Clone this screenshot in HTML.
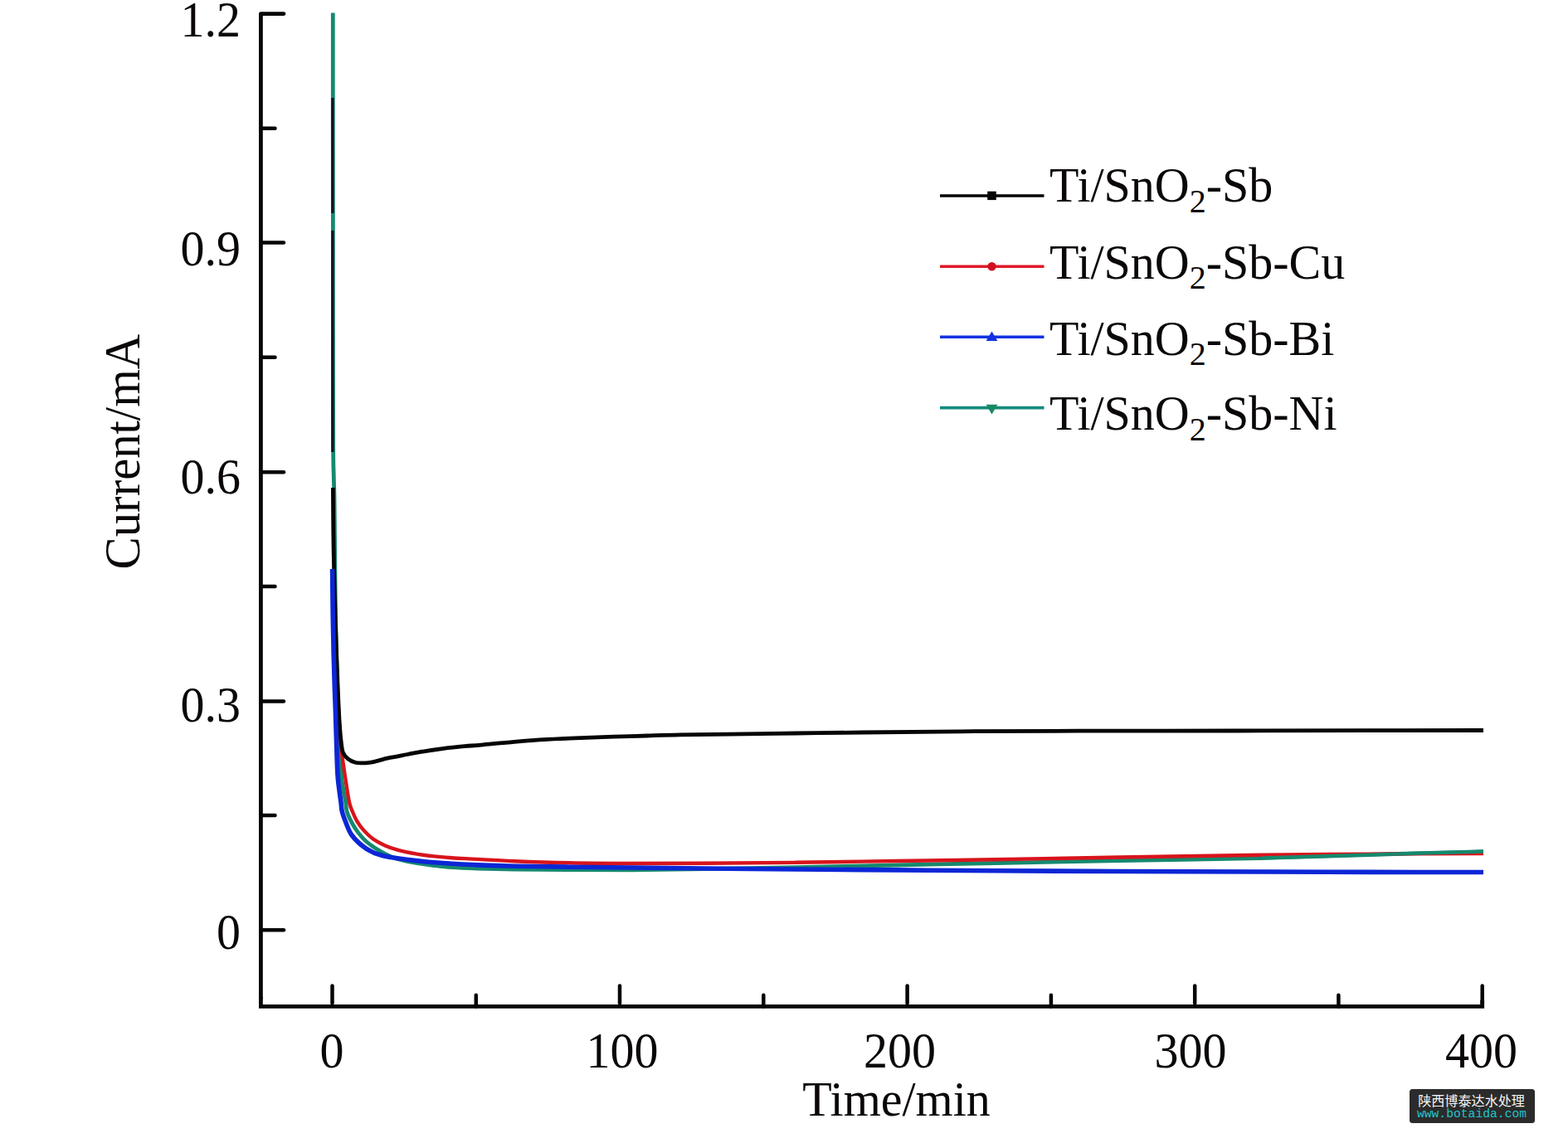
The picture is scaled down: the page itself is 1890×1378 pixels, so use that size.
<!DOCTYPE html>
<html><head><meta charset="utf-8"><title>chart</title>
<style>
html,body{margin:0;padding:0;background:#fff;}
body{width:1890px;height:1378px;overflow:hidden;font-family:"Liberation Serif",serif;}
svg{display:block;}
</style></head><body>
<svg width="1890" height="1378" viewBox="0 0 1890 1378">
<rect x="0" y="0" width="1890" height="1378" fill="#ffffff"/>
<path d="M401.3,15.5 C401.3,37.9 401.3,102.6 401.3,150.0 C401.3,197.4 401.4,250.0 401.4,300.0 C401.4,350.0 401.4,409.2 401.5,450.0 C401.6,490.8 401.6,524.2 401.7,545.0 C401.8,565.8 402.1,565.8 402.3,575.0 C402.5,584.2 402.8,589.2 403.0,600.0 C403.2,610.8 403.3,625.7 403.4,640.0 C403.5,654.3 403.6,669.3 403.8,686.0 C404.0,702.7 404.2,722.7 404.5,740.0 C404.8,757.3 405.1,775.0 405.5,790.0 C405.9,805.0 406.4,817.5 406.8,830.0 C407.2,842.5 407.5,853.3 408.0,865.0 C408.5,876.7 409.2,888.0 409.8,900.0 C410.4,912.0 410.6,925.9 411.7,937.0 C412.8,948.1 415.4,959.8 416.5,966.7 C417.6,973.7 416.9,974.2 418.3,978.7 C419.7,983.2 422.6,989.2 425.0,993.5 C427.4,997.8 429.6,1001.0 432.4,1004.6 C435.2,1008.2 437.9,1011.5 442.0,1015.0 C446.1,1018.5 451.9,1022.4 456.9,1025.4 C461.8,1028.4 466.8,1031.0 471.7,1033.0 C476.6,1035.0 481.1,1036.1 486.0,1037.3 C490.9,1038.5 495.1,1039.3 501.3,1040.3 C507.6,1041.3 516.2,1042.6 523.5,1043.5 C530.8,1044.4 536.2,1045.1 544.9,1045.7 C553.6,1046.3 563.0,1046.6 575.5,1047.0 C588.0,1047.4 601.8,1047.7 620.0,1048.0 C638.2,1048.3 661.7,1048.6 685.0,1048.7 C708.3,1048.8 732.5,1049.0 760.0,1048.8 C787.5,1048.6 816.7,1048.1 850.0,1047.6 C883.3,1047.1 921.7,1046.4 960.0,1045.6 C998.3,1044.8 1040.0,1043.8 1080.0,1043.0 C1120.0,1042.2 1155.0,1041.4 1200.0,1040.5 C1245.0,1039.6 1296.7,1038.5 1350.0,1037.5 C1403.3,1036.5 1470.0,1035.7 1520.0,1034.5 C1570.0,1033.3 1605.3,1031.8 1650.0,1030.5 C1694.7,1029.2 1765.0,1027.2 1788.0,1026.6" fill="none" stroke="#15896e" stroke-width="4.8" stroke-linejoin="round" stroke-linecap="butt"/>
<path d="M400.9,118 V257 M400.9,278 V545" stroke="#1a1026" stroke-width="3.4" fill="none"/>
<path d="M406.8,835.0 C407.1,840.0 407.8,854.2 408.5,865.0 C409.2,875.8 410.1,890.5 411.0,900.0 C411.9,909.5 413.0,915.8 413.9,922.0 C414.8,928.2 414.9,929.5 416.1,937.0 C417.3,944.5 419.4,959.8 420.9,966.7 C422.4,973.7 423.4,974.9 425.0,978.7 C426.6,982.6 428.0,986.1 430.2,989.8 C432.4,993.5 435.1,997.3 438.3,1000.9 C441.5,1004.5 445.1,1008.2 449.4,1011.3 C453.7,1014.4 459.4,1017.2 464.3,1019.4 C469.2,1021.6 472.9,1022.9 479.1,1024.6 C485.3,1026.3 493.9,1028.1 501.3,1029.4 C508.7,1030.7 516.2,1031.6 523.5,1032.4 C530.8,1033.2 536.2,1033.7 544.9,1034.3 C553.6,1034.9 563.0,1035.2 575.5,1035.9 C588.0,1036.6 601.8,1037.5 620.0,1038.2 C638.2,1038.9 661.7,1039.7 685.0,1040.2 C708.3,1040.7 732.5,1040.9 760.0,1041.0 C787.5,1041.1 816.7,1041.0 850.0,1040.8 C883.3,1040.6 921.7,1040.3 960.0,1039.8 C998.3,1039.3 1040.0,1038.6 1080.0,1038.0 C1120.0,1037.4 1155.0,1037.0 1200.0,1036.2 C1245.0,1035.5 1296.7,1034.4 1350.0,1033.5 C1403.3,1032.6 1470.0,1031.4 1520.0,1030.7 C1570.0,1030.0 1605.3,1029.9 1650.0,1029.6 C1694.7,1029.3 1765.0,1029.1 1788.0,1029.0" fill="none" stroke="#d8141c" stroke-width="4.4" stroke-linejoin="round" stroke-linecap="butt"/>
<path d="M401.4,588.0 C401.5,596.7 401.6,623.7 401.8,640.0 C402.0,656.3 402.2,669.3 402.6,686.0 C403.0,702.7 403.5,722.7 404.0,740.0 C404.5,757.3 405.2,775.0 405.7,790.0 C406.2,805.0 406.8,819.2 407.2,830.0 C407.6,840.8 407.9,846.7 408.3,855.0 C408.7,863.3 409.3,873.0 409.8,880.0 C410.3,887.0 410.9,892.4 411.5,897.0 C412.1,901.6 412.2,904.4 413.5,907.4 C414.8,910.4 416.9,912.8 419.4,914.8 C421.9,916.8 425.3,918.4 428.3,919.2 C431.3,920.0 434.4,919.8 437.5,919.8 C440.6,919.8 441.6,920.2 446.9,919.2 C452.1,918.2 461.7,915.3 469.0,913.7 C476.3,912.1 484.7,910.7 490.9,909.5 C497.1,908.3 498.7,907.9 506.0,906.7 C513.3,905.5 525.9,903.6 534.9,902.4 C543.9,901.2 552.5,900.4 560.0,899.7 C567.5,899.0 570.0,899.0 580.0,898.1 C590.0,897.2 606.7,895.4 620.0,894.3 C633.3,893.2 646.7,892.2 660.0,891.4 C673.3,890.6 686.7,890.1 700.0,889.6 C713.3,889.1 726.7,888.6 740.0,888.2 C753.3,887.8 766.7,887.4 780.0,887.0 C793.3,886.6 803.3,886.2 820.0,885.9 C836.7,885.6 856.7,885.4 880.0,885.1 C903.3,884.8 933.3,884.4 960.0,884.0 C986.7,883.6 1006.7,883.4 1040.0,883.0 C1073.3,882.6 1116.7,882.1 1160.0,881.8 C1203.3,881.5 1245.0,881.3 1300.0,881.2 C1355.0,881.1 1431.7,881.1 1490.0,881.0 C1548.3,880.9 1600.3,880.8 1650.0,880.7 C1699.7,880.6 1765.0,880.5 1788.0,880.5" fill="none" stroke="#060606" stroke-width="4.8" stroke-linejoin="round" stroke-linecap="butt"/>
<path d="M400.6,686.0 C400.7,695.0 400.9,722.7 401.2,740.0 C401.5,757.3 401.8,775.0 402.2,790.0 C402.6,805.0 403.0,819.2 403.4,830.0 C403.8,840.8 403.9,843.3 404.3,855.0 C404.7,866.7 405.2,886.3 405.7,900.0 C406.2,913.7 406.3,925.9 407.2,937.0 C408.1,948.1 410.0,959.8 410.9,966.7 C411.8,973.7 411.3,974.2 412.4,978.7 C413.5,983.2 415.8,988.9 417.6,993.5 C419.5,998.1 420.7,1002.0 423.5,1006.1 C426.3,1010.2 430.3,1014.4 434.6,1018.0 C438.9,1021.6 444.4,1025.2 449.4,1027.6 C454.3,1030.0 459.4,1031.1 464.3,1032.3 C469.2,1033.5 472.9,1033.9 479.1,1034.8 C485.3,1035.7 493.9,1036.8 501.3,1037.6 C508.7,1038.4 516.2,1039.2 523.5,1039.8 C530.8,1040.4 536.2,1040.8 544.9,1041.3 C553.6,1041.8 563.0,1042.4 575.5,1042.9 C588.0,1043.4 601.8,1043.9 620.0,1044.3 C638.2,1044.7 661.7,1044.9 685.0,1045.2 C708.3,1045.5 732.5,1045.7 760.0,1046.0 C787.5,1046.3 816.7,1046.7 850.0,1047.0 C883.3,1047.3 921.7,1047.7 960.0,1048.0 C998.3,1048.3 1040.0,1048.6 1080.0,1048.9 C1120.0,1049.2 1155.0,1049.5 1200.0,1049.8 C1245.0,1050.1 1296.7,1050.3 1350.0,1050.5 C1403.3,1050.7 1470.0,1050.8 1520.0,1051.0 C1570.0,1051.2 1605.3,1051.3 1650.0,1051.4 C1694.7,1051.5 1765.0,1051.5 1788.0,1051.5" fill="none" stroke="#0c26d6" stroke-width="5.6" stroke-linejoin="round" stroke-linecap="butt"/>
<path d="M1520.0,1034.5 C1541.7,1033.8 1605.3,1031.8 1650.0,1030.5 C1694.7,1029.2 1765.0,1027.2 1788.0,1026.6" fill="none" stroke="#15896e" stroke-width="4.2" stroke-linejoin="round" stroke-linecap="butt"/>
<g stroke="#060606" stroke-width="4.8" fill="none" stroke-linecap="round" stroke-linejoin="round"><path d="M342,16.6 H314.4 V1203.4" /></g><g stroke="#060606" stroke-width="4.8" fill="none" stroke-linecap="butt" stroke-linejoin="miter"><path d="M314.4,1201.4 V1213.4 H1786.7 V1205.4" /></g><g stroke="#060606" stroke-width="4.5" fill="none" stroke-linecap="round"><path d="M314.4,292.6 H342"/><path d="M314.4,569.3 H342"/><path d="M314.4,845.4 H342"/><path d="M314.4,1121.2 H342"/><path d="M314.4,154.7 H331.5"/><path d="M314.4,430.8 H331.5"/><path d="M314.4,707.0 H331.5"/><path d="M314.4,983.1 H331.5"/><path d="M400.5,1209.4 V1188.5"/><path d="M747.0,1209.4 V1188.5"/><path d="M1093.6,1209.4 V1188.5"/><path d="M1440.2,1209.4 V1188.5"/><path d="M1786.7,1209.4 V1188.5"/><path d="M573.8,1213.4 V1199.7"/><path d="M920.3,1213.4 V1199.7"/><path d="M1266.9,1213.4 V1199.7"/><path d="M1613.4,1213.4 V1199.7"/></g>
<g font-family="Liberation Serif, serif" font-size="58" fill="#0b0707"><g transform="translate(290.0,44.2) scale(1,1.060)"><text x="0" y="0" text-anchor="end">1.2</text></g><g transform="translate(290.0,319.5) scale(1,1.060)"><text x="0" y="0" text-anchor="end">0.9</text></g><g transform="translate(290.0,594.7) scale(1,1.060)"><text x="0" y="0" text-anchor="end">0.6</text></g><g transform="translate(290.0,869.6) scale(1,1.060)"><text x="0" y="0" text-anchor="end">0.3</text></g><g transform="translate(290.0,1143.6) scale(1,1.060)"><text x="0" y="0" text-anchor="end">0</text></g><g transform="translate(400.1,1286.6) scale(1,1.060)"><text x="0" y="0" text-anchor="middle">0</text></g><g transform="translate(750.0,1286.6) scale(1,1.060)"><text x="0" y="0" text-anchor="middle">100</text></g><g transform="translate(1084.5,1286.6) scale(1,1.060)"><text x="0" y="0" text-anchor="middle">200</text></g><g transform="translate(1434.9,1286.6) scale(1,1.060)"><text x="0" y="0" text-anchor="middle">300</text></g><g transform="translate(1785.6,1286.6) scale(1,1.060)"><text x="0" y="0" text-anchor="middle">400</text></g><g transform="translate(1080.5,1344.9) scale(1,1.030)"><text x="0" y="0" text-anchor="middle">Time/min</text></g><g transform="translate(167.6,544.6) rotate(-90) scale(1,1.050)"><text x="0" y="0" font-size="58.7" text-anchor="middle">Current/mA</text></g></g>
<path d="M1133,236.0 H1258.5" stroke="#060606" stroke-width="3.6" fill="none"/><rect x="1190.2" y="230.7" width="10.6" height="10.4" fill="#060606"/><g transform="translate(1265,243.4) scale(1,1.022)"><text x="0" y="0" font-family="Liberation Serif, serif" font-size="58" fill="#0b0707">Ti/SnO<tspan font-size="40" dy="12.6">2</tspan><tspan dy="-12.6">-Sb</tspan></text></g><path d="M1133,321.2 H1258.5" stroke="#e01a2a" stroke-width="3.6" fill="none"/><circle cx="1195.5" cy="321.2" r="5.2" fill="#d01020"/><g transform="translate(1265,335.5) scale(1,1.022)"><text x="0" y="0" font-family="Liberation Serif, serif" font-size="58" fill="#0b0707">Ti/SnO<tspan font-size="40" dy="12.6">2</tspan><tspan dy="-12.6">-Sb-Cu</tspan></text></g><path d="M1133,406.3 H1258.5" stroke="#1232e0" stroke-width="3.6" fill="none"/><path d="M1195.5,399.5 l6.9,11.6 h-13.8z" fill="#1232e0"/><g transform="translate(1265,427.5) scale(1,1.022)"><text x="0" y="0" font-family="Liberation Serif, serif" font-size="58" fill="#0b0707">Ti/SnO<tspan font-size="40" dy="12.6">2</tspan><tspan dy="-12.6">-Sb-Bi</tspan></text></g><path d="M1133,491.6 H1258.5" stroke="#148a7c" stroke-width="3.6" fill="none"/><path d="M1195.5,499.6 l6.9,-11.8 h-13.8z" fill="#178a62"/><g transform="translate(1265,518.4) scale(1,1.022)"><text x="0" y="0" font-family="Liberation Serif, serif" font-size="58" fill="#0b0707">Ti/SnO<tspan font-size="40" dy="12.6">2</tspan><tspan dy="-12.6">-Sb-Ni</tspan></text></g>
<rect x="1699" y="1313" width="151" height="41" rx="3.5" ry="3.5" fill="#2b2b2b"/><text x="1709.2" y="1333" font-family="Liberation Sans, Noto Sans CJK SC, sans-serif" font-size="16.1" fill="#f6f6f6">陕西博泰达水处理</text><text x="1774" y="1346.6" text-anchor="middle" font-family="Liberation Mono, monospace" font-size="14.7" fill="#1fc4cc">www.botaida.com</text>
</svg>
</body></html>
